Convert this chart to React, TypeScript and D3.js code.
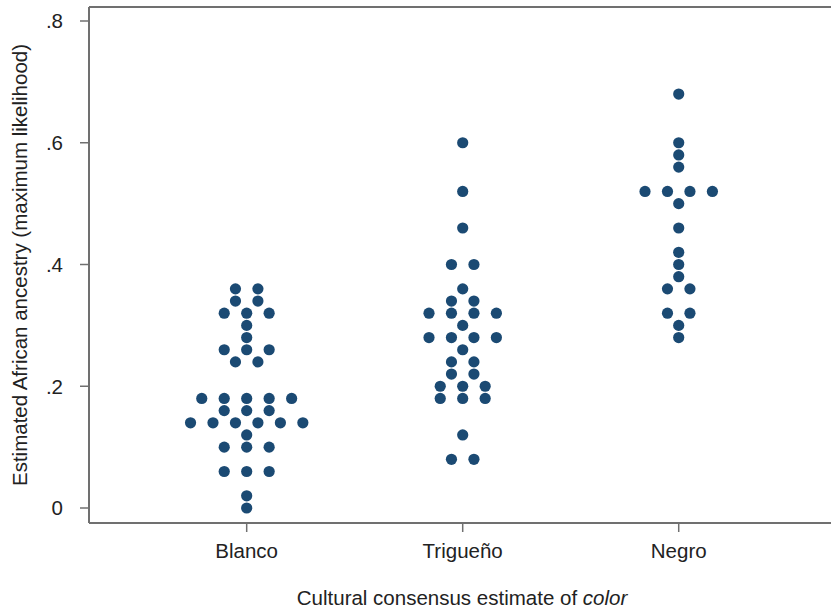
import React from 'react';
import * as d3 from 'd3';

// categories and their observed values (binned at .02)
const categories = ['Blanco', 'Trigueño', 'Negro'];

const blanco = [
  0, 0.02, 0.06, 0.06, 0.06, 0.1, 0.1, 0.1, 0.12,
  0.14, 0.14, 0.14, 0.14, 0.14, 0.14, 0.16, 0.16, 0.16,
  0.18, 0.18, 0.18, 0.18, 0.18, 0.24, 0.24, 0.26, 0.26, 0.26,
  0.28, 0.3, 0.32, 0.32, 0.32, 0.34, 0.34, 0.36, 0.36,
];

const trigueno = [
  0.08, 0.08, 0.12, 0.18, 0.18, 0.18, 0.2, 0.2, 0.2,
  0.22, 0.22, 0.24, 0.24, 0.26, 0.28, 0.28, 0.28, 0.28,
  0.3, 0.32, 0.32, 0.32, 0.32, 0.34, 0.34, 0.36, 0.4, 0.4,
  0.46, 0.52, 0.6,
];

const negro = [
  0.28, 0.3, 0.32, 0.32, 0.36, 0.36, 0.38, 0.4, 0.42,
  0.46, 0.5, 0.52, 0.52, 0.52, 0.52, 0.56, 0.58, 0.6, 0.68,
];

const seriesValues = [blanco, trigueno, negro];
const yTicks = [0, 0.2, 0.4, 0.6, 0.8];
const yTickLabels = ['0', '.2', '.4', '.6', '.8'];

const W = 831;
const H = 611;
const left = 89;
const top = 7;
const bottom = 523;

const x = d3.scaleLinear().domain([0.27, 3.705]).range([left, W]);
const y = d3.scaleLinear().domain([0, 0.8]).range([508, 21]);
const dotStep = 0.104; // horizontal spacing between stacked dots, in x units

const axisColor = '#707070';
const dotColor = '#1b4a73';
const font = 'Liberation Sans, Arial, Helvetica, sans-serif';
const fs = 20.5;

type Dot = { cx: number; cy: number };

function layoutDots(vals: number[], catIndex: number): Dot[] {
  const groups = d3.group(vals, (v) => v.toFixed(2));
  const dots: Dot[] = [];
  groups.forEach((arr, key) => {
    const n = arr.length;
    arr.forEach((_, i) => {
      dots.push({
        cx: x(catIndex + 1 + (i - (n - 1) / 2) * dotStep),
        cy: y(+key),
      });
    });
  });
  return dots;
}

export default function App() {
  const allDots = seriesValues.flatMap((vals, i) => layoutDots(vals, i));

  return (
    <div style={{ position: 'absolute', left: 0, top: 0 }}>
      <svg width={W} height={H} style={{ display: 'block', background: '#fff' }}>
        {/* frame: top, left, bottom */}
        <line x1={left} x2={W} y1={top} y2={top} stroke={axisColor} strokeWidth={2} />
        <line x1={left} x2={left} y1={top} y2={bottom} stroke={axisColor} strokeWidth={2} />
        <line x1={left} x2={W} y1={bottom} y2={bottom} stroke={axisColor} strokeWidth={2} />

        {/* y axis ticks */}
        {yTicks.map((t, i) => (
          <g key={t}>
            <line x1={left - 9} x2={left} y1={y(t)} y2={y(t)} stroke={axisColor} strokeWidth={1.5} />
            <text
              x={63}
              y={y(t)}
              dy="0.36em"
              textAnchor="end"
              fontFamily={font}
              fontSize={fs}
              fill="#222"
            >
              {yTickLabels[i]}
            </text>
          </g>
        ))}

        {/* x axis ticks */}
        {categories.map((c, i) => (
          <g key={c}>
            <line x1={x(i + 1)} x2={x(i + 1)} y1={bottom} y2={bottom + 9} stroke={axisColor} strokeWidth={1.5} />
            <text
              x={x(i + 1)}
              y={558}
              textAnchor="middle"
              fontFamily={font}
              fontSize={fs}
              fill="#222"
            >
              {c}
            </text>
          </g>
        ))}

        {/* axis titles */}
        <text
          x={(left + W) / 2 + 2}
          y={605}
          textAnchor="middle"
          fontFamily={font}
          fontSize={fs}
          fill="#222"
        >
          Cultural consensus estimate of <tspan fontStyle="italic">color</tspan>
        </text>
        <text
          transform={`translate(27, ${(top + bottom) / 2}) rotate(-90)`}
          textAnchor="middle"
          fontFamily={font}
          fontSize={fs}
          fill="#222"
        >
          Estimated African ancestry (maximum likelihood)
        </text>

        {/* dots */}
        {allDots.map((d, i) => (
          <circle key={i} cx={d.cx} cy={d.cy} r={5.6} fill={dotColor} />
        ))}
      </svg>
    </div>
  );
}
